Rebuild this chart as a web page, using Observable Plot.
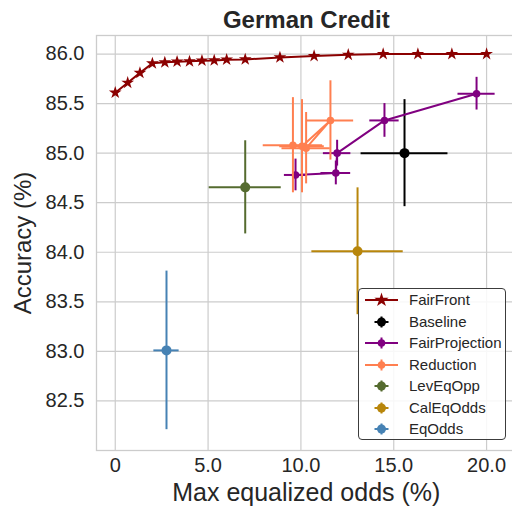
<!DOCTYPE html>
<html><head><meta charset="utf-8">
<script src="https://cdn.jsdelivr.net/npm/d3@7"></script>
<script src="https://cdn.jsdelivr.net/npm/@observablehq/plot@0.6"></script>
<style>
body{margin:0;background:#fff;overflow:hidden}
#wrap{position:relative;width:512px;height:509px;font-family:"Liberation Sans",Arial,sans-serif}
#legend{position:absolute;left:358px;top:288px;width:148px;height:152px;border:1px solid #3c3c3c;border-radius:4px;background:rgba(255,255,255,0.85);box-sizing:border-box}
.row{position:absolute;left:0;width:146px;height:20px}
.row svg{position:absolute;left:0;top:0}
.row span{position:absolute;left:50px;top:0;font-size:15px;color:#262626;white-space:nowrap;line-height:20px}
</style></head><body><div id="wrap"></div>
<script>
// ---------- data ----------
const title = "German Credit";
const xLabel = "Max equalized odds (%)";
const yLabel = "Accuracy (%)";
const xTicks = [0, 5, 10, 15, 20];
const xTickLabels = ["0", "5.0", "10.0", "15.0", "20.0"];
const yTicks = [82.5, 83.0, 83.5, 84.0, 84.5, 85.0, 85.5, 86.0];

const ffX = [0, 0.67, 1.33, 2.0, 2.67, 3.33, 4.0, 4.67, 5.33, 6.0, 7.0, 8.87, 10.71, 12.55, 14.43, 16.3, 18.13, 20.0];
const ffY = [85.61, 85.71, 85.81, 85.906, 85.916, 85.923, 85.926, 85.933, 85.936, 85.943, 85.946, 85.966, 85.98, 85.993, 86.0, 86.0, 86.0, 86.0];

const baseX = [15.58], baseY = [85.0], baseXe = [2.34], baseYe = [0.54];
const fpX = [9.71, 11.88, 11.95, 14.5, 19.46];
const fpY = [84.78, 84.80, 85.0, 85.33, 85.6];
const fpXe = [0.6, 0.8, 0.74, 0.79, 1.0];
const fpYe = [0.16, 0.12, 0.13, 0.17, 0.165];
const redX = [9.57, 10.06, 11.59, 10.28];
const redY = [85.08, 85.07, 85.33, 85.05];
const redXe = [1.6, 1.2, 1.25, 1.3];
const redYe = [0.48, 0.47, 0.40, 0.36];
const levX = [7.0], levY = [84.655], levXe = [1.94], levYe = [0.47];
const calX = [13.05], calY = [84.01], calXe = [2.46], calYe = [0.64];
const eqX = [2.76], eqY = [83.01], eqXe = [0.68], eqYe = [0.8];

const names = ["FairFront", "Baseline", "FairProjection", "Reduction", "LevEqOpp", "CalEqOdds", "EqOdds"];
const colors = ["#8B0000", "#000000", "#800080", "#FF7F50", "#556B2F", "#B8860B", "#4682B4"];

// ---------- chart ----------
const FONT = '"Liberation Sans", Arial, sans-serif';
const GRID = "#cccccc";
const TXT = "#262626";

function errSeries(xs, ys, xe, ye, color, r, withLine) {
  const idx = d3.range(xs.length);
  const m = [
    Plot.ruleY(idx, {y: i => ys[i], x1: i => xs[i] - xe[i], x2: i => xs[i] + xe[i], stroke: color, strokeWidth: 2}),
    Plot.ruleX(idx, {x: i => xs[i], y1: i => ys[i] - ye[i], y2: i => ys[i] + ye[i], stroke: color, strokeWidth: 2})
  ];
  if (withLine) m.push(Plot.line(idx, {x: i => xs[i], y: i => ys[i], stroke: color, strokeWidth: 2}));
  m.push(Plot.dot(idx, {x: i => xs[i], y: i => ys[i], r, fill: color, stroke: "none"}));
  return m;
}

const ffIdx = d3.range(ffX.length);
const chart = Plot.plot({
  width: 512, height: 509,
  marginLeft: 96, marginRight: -3.6, marginTop: 35, marginBottom: 59,
  style: {fontFamily: FONT, background: "white", overflow: "hidden"},
  x: {domain: [-1.01, 21.59]},
  y: {domain: [82.0, 86.187]},
  marks: [
    Plot.gridX(xTicks, {stroke: GRID, strokeOpacity: 1, strokeWidth: 1.2}),
    Plot.gridY(yTicks, {stroke: GRID, strokeOpacity: 1, strokeWidth: 1.2}),
    Plot.frame({stroke: GRID, strokeWidth: 1.3}),
    Plot.line(ffIdx, {x: i => ffX[i], y: i => ffY[i], stroke: colors[0], strokeWidth: 2}),
    Plot.dot(ffIdx, {x: i => ffX[i], y: i => ffY[i], symbol: "star", r: 4, fill: colors[0], stroke: "none"}),
    ...errSeries(baseX, baseY, baseXe, baseYe, colors[1], 5, false),
    ...errSeries(fpX, fpY, fpXe, fpYe, colors[2], 3.8, true),
    ...errSeries(redX, redY, redXe, redYe, colors[3], 3.8, true),
    ...errSeries(levX, levY, levXe, levYe, colors[4], 5, false),
    ...errSeries(calX, calY, calXe, calYe, colors[5], 5, false),
    ...errSeries(eqX, eqY, eqXe, eqYe, colors[6], 5, false),
    Plot.axisX({ticks: xTicks, tickFormat: d => xTickLabels[xTicks.indexOf(d)], tickSize: 0, tickPadding: 7, fontSize: 20, fill: TXT, label: null}),
    Plot.axisY({ticks: yTicks, tickFormat: d => d.toFixed(1), tickSize: 0, tickPadding: 12, fontSize: 20, fill: TXT, label: null}),
    Plot.text([xLabel], {text: d => d, frameAnchor: "bottom", textAnchor: "middle", lineAnchor: "middle", dy: 42, fontSize: 25, fill: TXT}),
    Plot.text([yLabel], {text: d => d, frameAnchor: "left", textAnchor: "middle", lineAnchor: "middle", dx: -73, rotate: -90, fontSize: 24, fill: TXT}),
    Plot.text([title], {text: d => d, frameAnchor: "top", textAnchor: "middle", lineAnchor: "middle", dy: -15, fontSize: 24, fontWeight: "bold", fill: TXT})
  ]
});
const wrap = document.getElementById("wrap");
wrap.appendChild(chart);

// ---------- legend ----------
const legend = document.createElement("div");
legend.id = "legend";
const starPath = d3.symbol(d3.symbolStar, Math.PI * 4.5 * 4.5)();
names.forEach((name, k) => {
  const row = document.createElement("div");
  row.className = "row";
  row.style.top = (12.3 + k * 21.45 - 10 - 1) + "px";
  const c = colors[k];
  let icon = "";
  if (k === 0) {
    icon = `<line x1="6" x2="39" y1="10" y2="10" stroke="${c}" stroke-width="2"/><path d="${starPath}" transform="translate(22.5,10)" fill="${c}"/>`;
  } else {
    const full = (k === 2 || k === 3);
    icon = (full ? `<line x1="6" x2="39" y1="10" y2="10" stroke="${c}" stroke-width="2"/>` : `<line x1="15.5" x2="29.5" y1="10" y2="10" stroke="${c}" stroke-width="2"/>`) +
      `<line x1="22.5" x2="22.5" y1="4.5" y2="15.5" stroke="${c}" stroke-width="2"/>` +
      `<circle cx="22.5" cy="10" r="${full ? 3.8 : 4.5}" fill="${c}"/>`;
  }
  row.innerHTML = `<svg width="46" height="20">${icon}</svg><span>${name}</span>`;
  legend.appendChild(row);
});
wrap.appendChild(legend);
</script></body></html>
